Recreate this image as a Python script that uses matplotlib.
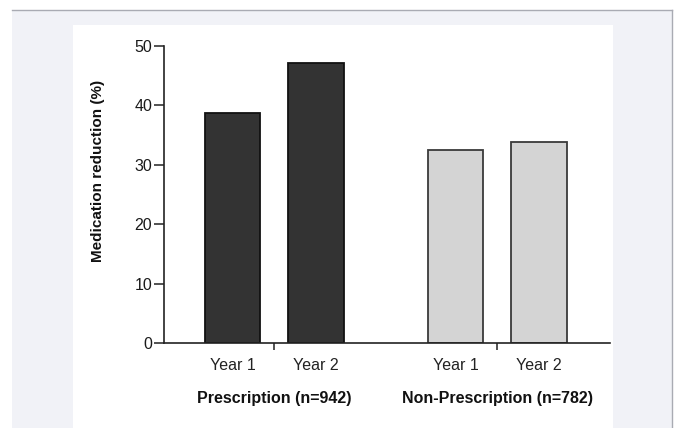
import matplotlib
matplotlib.use("Agg")
import matplotlib.pyplot as plt
from matplotlib.patches import Rectangle
from matplotlib.lines import Line2D
import matplotlib.transforms as mtransforms

plt.rcParams['font.family'] = ['Liberation Sans', 'DejaVu Sans']

# Data
bar_labels = ["Year 1", "Year 2", "Year 1", "Year 2"]
values = [38.7, 47.1, 32.5, 33.8]
group_labels = ["Prescription (n=942)", "Non-Prescription (n=782)"]
positions = [0, 1, 2.67, 3.67]
group_centers = [0.5, 3.17]
bar_colors = ["#333333", "#333333", "#d4d4d4", "#d4d4d4"]
edge_colors = ["#111111", "#111111", "#3a3a3a", "#3a3a3a"]
yticks = [0, 10, 20, 30, 40, 50]

W, H = 680, 428
fig = plt.figure(figsize=(W / 100, H / 100), dpi=100)
fig.patch.set_facecolor("white")

def px_rect(x0, y0, x1, y1, **kw):
    r = Rectangle((x0 / W, 1 - y1 / H), (x1 - x0) / W, (y1 - y0) / H,
                  transform=fig.transFigure, **kw)
    fig.patches.append(r)

# outer light panel
px_rect(12, 10, 672, 428, facecolor="#f1f2f7", edgecolor="none", zorder=-10)
fig.lines.append(Line2D([12 / W, 672 / W], [1 - 10 / H, 1 - 10 / H],
                        transform=fig.transFigure, color="#a9abb3", lw=1.0, zorder=-9))
fig.lines.append(Line2D([672 / W, 672 / W], [1 - 10 / H, 0],
                        transform=fig.transFigure, color="#a9abb3", lw=1.0, zorder=-9))
# inner white panel
px_rect(73, 25, 613, 428, facecolor="white", edgecolor="none", zorder=-8)

ax = fig.add_axes([164 / W, 1 - 343 / H, (610 - 164) / W, (343 - 46) / H])
ax.set_zorder(5)
ax.set_facecolor("none")

ax.bar(positions, values, width=0.66, color=bar_colors, edgecolor=edge_colors,
       linewidth=1.3, zorder=2)

ax.set_ylim(0, 50)
ax.set_xlim(-0.82, 4.52)
ax.set_yticks(yticks)
ax.set_yticklabels([str(t) for t in yticks], fontsize=11.5, color="#1a1a1a")
ax.set_xticks(group_centers)
ax.set_xticklabels([])
ax.tick_params(axis="y", length=7, width=1.1, pad=1.5, color="#222222")
ax.tick_params(axis="x", length=5, width=1.1, color="#222222", direction="out")

for s in ["top", "right"]:
    ax.spines[s].set_visible(False)
for s in ["left", "bottom"]:
    ax.spines[s].set_linewidth(1.2)
    ax.spines[s].set_color("#222222")

ax.set_ylabel("Medication reduction (%)", fontsize=11, fontweight="bold",
              color="#111111")
ax.yaxis.set_label_coords((105 - 164) / 446, 0.58)

trans = mtransforms.blended_transform_factory(ax.transData, fig.transFigure)
for p, lab in zip(positions, bar_labels):
    ax.text(p, 1 - 366 / H, lab, transform=trans, ha="center", va="center",
            fontsize=11.5, color="#222222", clip_on=False)
for c, lab in zip(group_centers, group_labels):
    ax.text(c, 1 - 398 / H, lab, transform=trans, ha="center", va="center",
            fontsize=11.5, fontweight="bold", color="#111111", clip_on=False)

fig.savefig("out.png", dpi=100)
